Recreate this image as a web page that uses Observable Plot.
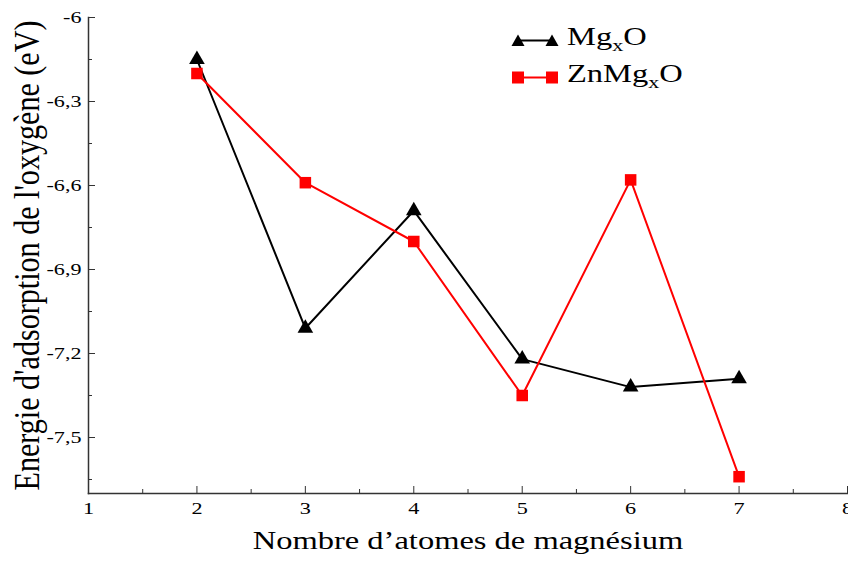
<!DOCTYPE html>
<html>
<head>
<meta charset="utf-8">
<script src="https://cdn.jsdelivr.net/npm/d3@7"></script>
<script src="https://cdn.jsdelivr.net/npm/@observablehq/plot@0.6"></script>
<style>
  html, body { margin: 0; padding: 0; background: #fff; }
  #wrap { position: relative; width: 848px; height: 563px; font-family: "Liberation Serif", "DejaVu Serif", serif; }
  .legend { position: absolute; left: 511px; top: 22px; font-size: 25px; line-height: 37px; color: #000; }
  .legend div { display: flex; align-items: center; height: 37px; }
  .legend svg { margin-right: 8px; }
  .legend span { display: inline-block; transform: scaleX(1.3); transform-origin: left center; }
  .legend sub { font-size: 17px; vertical-align: -6px; }
</style>
</head>
<body>
<div id="wrap"></div>
<script>
const atoms = [2, 3, 4, 5, 6, 7];
const mgxO = [-6.15, -7.11, -6.69, -7.22, -7.32, -7.29];
const znMgxO = [-6.20, -6.59, -6.80, -7.35, -6.58, -7.64];
const yMajor = [-6, -6.3, -6.6, -6.9, -7.2, -7.5];
const yMinor = [-6.15, -6.45, -6.75, -7.05, -7.35, -7.65];
const xMajor = [1, 2, 3, 4, 5, 6, 7, 8];
const xMinor = [1.5, 2.5, 3.5, 4.5, 5.5, 6.5, 7.5];
const xLabel = "Nombre d’atomes de magnésium";
const yLabel = "Energie d'adsorption de l'oxygène (eV)";

const s1 = atoms.map((x, i) => ({x, y: mgxO[i]}));
const s2 = atoms.map((x, i) => ({x, y: znMgxO[i]}));
const fmt = d => String(d).replace(".", ",");

const chart = Plot.plot({
  width: 848,
  height: 563,
  marginLeft: 88,
  marginRight: 1,
  marginTop: 17,
  marginBottom: 70,
  style: {fontFamily: "'Liberation Serif', serif", fontSize: "17px", color: "#000", background: "#fff"},
  x: {domain: [1, 8]},
  y: {domain: [-7.7, -6]},
  marks: [
    Plot.axisY(yMajor, {tickSize: -7, tickPadding: 14, tickFormat: fmt, label: null, fontSize: 17, stroke: "#333"}),
    Plot.axisY(yMinor, {tickSize: -4, tickFormat: () => "", label: null, stroke: "#333"}),
    Plot.axisX(xMajor, {tickSize: -7, tickPadding: 15, tickFormat: d => String(d), label: null, fontSize: 17, stroke: "#333"}),
    Plot.axisX(xMinor, {tickSize: -4, tickFormat: () => "", label: null, stroke: "#333"}),
    Plot.frame({anchor: "left", stroke: "#333", strokeWidth: 1.5}),
    Plot.frame({anchor: "bottom", stroke: "#333", strokeWidth: 1.5}),
    Plot.line(s1, {x: "x", y: "y", stroke: "#000", strokeWidth: 2}),
    Plot.dot(s1, {x: "x", y: "y", symbol: "triangle", r: 5.8, fill: "#000", stroke: "none"}),
    Plot.line(s2, {x: "x", y: "y", stroke: "#ff0000", strokeWidth: 2}),
    Plot.dot(s2, {x: "x", y: "y", symbol: "square", r: 6.5, fill: "#ff0000", stroke: "none"}),
    Plot.text([yLabel], {text: d => d, frameAnchor: "left", textAnchor: "middle", dx: -61, rotate: -90, fontSize: 30, fill: "#000", className: "ylab"}),
    Plot.text([xLabel], {text: d => d, frameAnchor: "bottom", textAnchor: "middle", dy: 55, fontSize: 25, fill: "#000", className: "xlab"})
  ]
});
const wrap = document.getElementById("wrap");
wrap.appendChild(chart);

// horizontal stretch of the text, as in the reference
chart.querySelectorAll("text").forEach(t => {
  if (t.closest(".ylab")) return;
  const L = t.getComputedTextLength();
  if (L > 0) {
    t.setAttribute("textLength", (L * 1.3).toFixed(1));
    t.setAttribute("lengthAdjust", "spacingAndGlyphs");
  }
});
chart.querySelectorAll(".ylab text").forEach(t => {
  t.setAttribute("textLength", "470");
  t.setAttribute("lengthAdjust", "spacingAndGlyphs");
  const tr = t.getAttribute("transform") || "";
  t.setAttribute("transform", tr + " scale(1,1.2)");
});

const legendItems = [
  {name: ["Mg", "x", "O"], color: "#000", shape: "triangle"},
  {name: ["ZnMg", "x", "O"], color: "#ff0000", shape: "square"}
];
const leg = document.createElement("div");
leg.className = "legend";
for (const it of legendItems) {
  const row = document.createElement("div");
  const marker = (cx) => it.shape === "triangle"
    ? `<path d="M${cx - 6.5},${24} L${cx + 6.5},${24} L${cx},${12.5} Z" fill="${it.color}"/>`
    : `<rect x="${cx - 6}" y="${12.5}" width="12" height="12" fill="${it.color}"/>`;
  row.innerHTML = `<svg width="48" height="37"><line x1="6" x2="42" y1="18.5" y2="18.5" stroke="${it.color}" stroke-width="2"/>${marker(7)}${marker(41)}</svg><span>${it.name[0]}<sub>${it.name[1]}</sub>${it.name[2]}</span>`;
  leg.appendChild(row);
}
wrap.appendChild(leg);
</script>
</body>
</html>
